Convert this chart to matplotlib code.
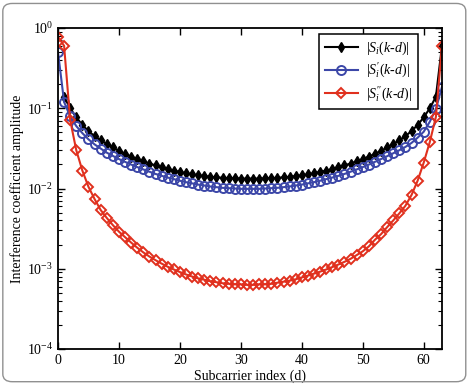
import numpy as np
import matplotlib
matplotlib.use("Agg")
import matplotlib.pyplot as plt
from matplotlib.patches import FancyBboxPatch

plt.rcParams['font.family'] = ['Liberation Serif', 'DejaVu Serif']
plt.rcParams['mathtext.fontset'] = 'custom'
plt.rcParams['mathtext.rm'] = 'Liberation Serif'
plt.rcParams['mathtext.it'] = 'Liberation Serif:italic'

# subcarrier index
d_black = list(range(1, 64))
d_all = list(range(0, 64))

# |S_i(k-d)|
s0 = [0.139, 0.100, 0.077, 0.062, 0.052, 0.045, 0.040, 0.036, 0.0325, 0.0295,
      0.027, 0.025, 0.0232, 0.0218, 0.0205, 0.0194, 0.0184, 0.0175, 0.0167, 0.0161,
      0.0155, 0.0150, 0.0146, 0.0143, 0.0140, 0.0138, 0.0136, 0.0135, 0.0134, 0.0133,
      0.0133, 0.0133, 0.0133, 0.0134, 0.0135, 0.0136, 0.0138, 0.0140, 0.0143, 0.0146,
      0.0150, 0.0155, 0.0161, 0.0167, 0.0175, 0.0184, 0.0194, 0.0205, 0.0218, 0.0232,
      0.025, 0.027, 0.0295, 0.0325, 0.036, 0.040, 0.045, 0.052, 0.062, 0.077,
      0.100, 0.139, 0.60]

# |S_i'(k-d)|
s1 = [0.50, 0.120, 0.079, 0.060, 0.049, 0.041, 0.0355, 0.0315, 0.028, 0.0255,
      0.0233, 0.0215, 0.0199, 0.0185, 0.0173, 0.0162, 0.0152, 0.0144, 0.0137, 0.0131,
      0.0125, 0.0120, 0.0116, 0.0112, 0.0109, 0.0106, 0.0104, 0.0102, 0.0101, 0.0100,
      0.0099, 0.0099, 0.0099, 0.0099, 0.0100, 0.0101, 0.0102, 0.0104, 0.0106, 0.0109,
      0.0112, 0.0116, 0.0120, 0.0125, 0.0131, 0.0137, 0.0144, 0.0152, 0.0162, 0.0173,
      0.0185, 0.0199, 0.0215, 0.0233, 0.0253, 0.0275, 0.030, 0.033, 0.037, 0.043,
      0.051, 0.068, 0.098, 0.185]

# |S_i''(k-d)|
s2 = [0.78, 0.60, 0.071, 0.030, 0.0167, 0.0105, 0.0074, 0.0054, 0.0043, 0.0035,
      0.0029, 0.00248, 0.00212, 0.00183, 0.00160, 0.00142, 0.00128, 0.00116, 0.00106, 0.00098,
      0.00091, 0.00085, 0.00080, 0.00076, 0.00073, 0.00070, 0.00068, 0.00066, 0.00065, 0.00064,
      0.00064, 0.00063, 0.00063, 0.00064, 0.00064, 0.00065, 0.00067, 0.00069, 0.00071, 0.00074,
      0.00078, 0.00082, 0.00087, 0.00092, 0.00098, 0.00105, 0.00113, 0.00122, 0.00133, 0.00148,
      0.00165, 0.0019, 0.0023, 0.0027, 0.0033, 0.0040, 0.0049, 0.0061, 0.0083, 0.0125,
      0.021, 0.038, 0.078, 0.60]

labels = [r"$|S_i(k$-$d)|$", r"$|S_i'(k$-$d)|$", r"$|S_i''(k$-$d)|$"]

fig = plt.figure(figsize=(4.70, 3.84), dpi=100)
fig.patches.append(FancyBboxPatch((0.006, 0.006), 0.985, 0.985,
                                  boxstyle="round,pad=0,rounding_size=0.02",
                                  transform=fig.transFigure, fill=False,
                                  edgecolor='#909090', linewidth=1.0))
ax = fig.add_axes([0.1234, 0.0911, 0.817, 0.8359])

ax.semilogy(d_black, s0, '-', color='black', lw=1.5, marker='d', ms=5.5,
            mfc='black', mec='black', label=labels[0])
ax.semilogy(d_all, s1, '-', color='#3c47a8', lw=1.5, marker='o', ms=6.5,
            mfc='none', mec='#3c47a8', mew=1.4, label=labels[1])
ax.semilogy(d_all, s2, '-', color='#e0301e', lw=1.5, marker='D', ms=5.5,
            mfc='none', mec='#e0301e', mew=1.4, label=labels[2])

ax.set_xlim(0, 63)
ax.set_ylim(1e-4, 1)
ax.set_xticks([0, 10, 20, 30, 40, 50, 60])
ax.set_yticks([1e-4, 1e-3, 1e-2, 1e-1, 1])
ax.set_yticklabels([r'$10^{-4}$', r'$10^{-3}$', r'$10^{-2}$', r'$10^{-1}$', r'$10^{0}$'])
ax.tick_params(which='both', direction='in', top=True, right=True, labelsize=10)
ax.tick_params(which='major', length=5, width=1)
ax.tick_params(which='minor', length=3, width=0.8)
for sp in ax.spines.values():
    sp.set_linewidth(1.3)

ax.set_xlabel('Subcarrier index (d)', fontsize=10, labelpad=2)
ax.set_ylabel('Interference coefficient amplitude', fontsize=10, labelpad=2)

leg = ax.legend(loc='upper right', bbox_to_anchor=(0.9375, 0.981), borderaxespad=0,
                fancybox=False, edgecolor='black', framealpha=1, fontsize=10,
                handlelength=2.4, handletextpad=0.6, borderpad=0.4, labelspacing=0.3)
leg.get_frame().set_linewidth(1.1)

fig.savefig('out.png', dpi=100)
